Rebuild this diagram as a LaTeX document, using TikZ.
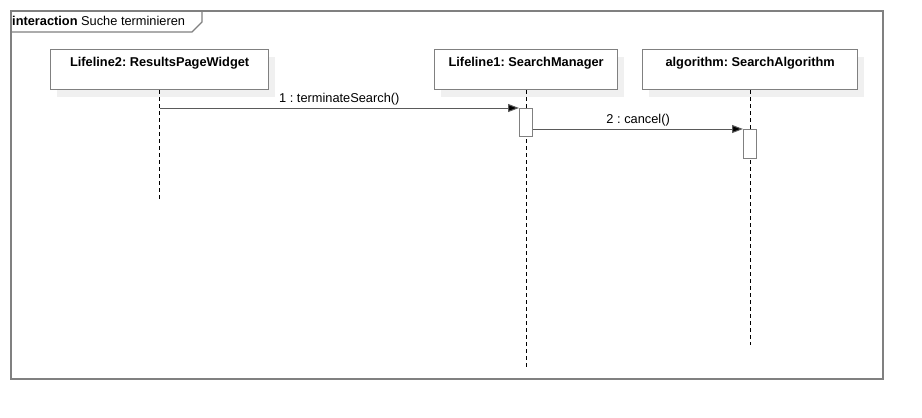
\documentclass[tikz,border=0pt]{standalone}
\usepackage{fontspec}
\setmainfont{Liberation Sans}
\usepackage{xcolor}
\usetikzlibrary{arrows.meta, positioning, shadows}
\definecolor{linegray}{HTML}{808080}
\definecolor{shadowgray}{HTML}{F0F0F0}
\frenchspacing
\tikzset{
lifeline/.style={
  draw=linegray, line width=1.3pt, fill=white, rectangle,
  inner sep=0pt, minimum height=40pt,
  text height=17pt, text depth=23pt,
  font=\fontsize{12.8}{15}\selectfont\bfseries,
  general shadow={fill=shadowgray, shadow xshift=6pt, shadow yshift=-7pt}
},
activation/.style={draw=linegray, line width=1.3pt, fill=white, minimum width=13pt, inner sep=0pt},
lifeline line/.style={black, line width=0.8pt, dash pattern=on 4pt off 3pt},
message/.style={draw=linegray!70!black, line width=1pt, -{Triangle[length=11pt,width=8pt,fill=black]}},
msg label/.style={font=\fontsize{12.8}{15}\selectfont, above, inner sep=2pt},
}

\begin{document}
\begin{tikzpicture}[x=1pt, y=-1pt]
        \useasboundingbox (0,0) rectangle (922,418);
        \node[draw=linegray, line width=1.8pt, minimum width=872pt, minimum height=368pt, anchor=north west, inner sep=0pt] (frame) at (10,10) {};
        \draw[linegray, line width=1.3pt] (frame.north west) ++(0,22) -- ++(182,0) -- ++(10,-10) -- ++(0,-12);
        \node[anchor=west, inner sep=0pt, font=\fontsize{12.8}{15}\selectfont] (title) at (12,21) {\textbf{interaction} Suche terminieren};

        \node[lifeline, minimum width=218pt, anchor=north west] (widget)  at (50,49)  {Lifeline2: ResultsPageWidget};
        \node[lifeline, minimum width=183pt, anchor=north west] (manager) at (434,49) {Lifeline1: SearchManager};
        \node[lifeline, minimum width=215pt, anchor=north west] (algo)    at (642,49) {algorithm: SearchAlgorithm};

        \coordinate (widget end)  at (widget.south |- 0,200);
        \coordinate (manager end) at (manager.south |- 0,368);
        \coordinate (algo end)    at (algo.south |- 0,345);
        \draw[lifeline line] (widget.south)  -- (widget end);
        \draw[lifeline line] (manager.south) -- (manager end);
        \draw[lifeline line] (algo.south)    -- (algo end);

        \node[activation, minimum height=28pt, anchor=north] (act1) at (manager.south |- 0,108) {};
        \node[activation, minimum height=29pt, anchor=north] (act2) at (algo.south |- 0,129) {};

        \draw[message] (widget.south |- act1.north west) -- (act1.north west) node[msg label, midway] {1 : terminateSearch()};
        \draw[message] (act1.east |- act2.north west) -- (act2.north west) node[msg label, midway] {2 : cancel()};
\end{tikzpicture}
\end{document}
